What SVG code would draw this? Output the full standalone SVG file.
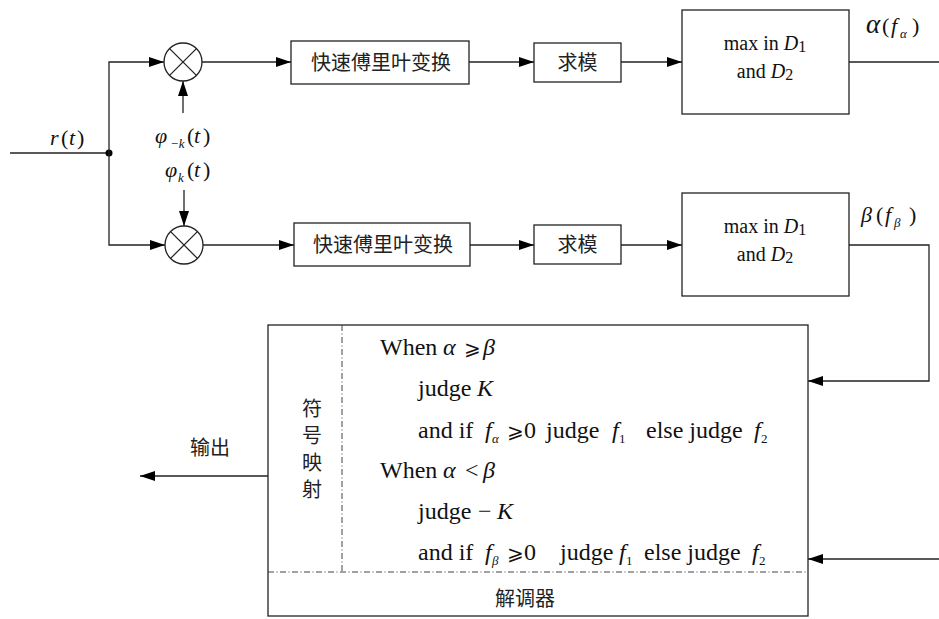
<svg xmlns="http://www.w3.org/2000/svg" width="939" height="619" viewBox="0 0 939 619">
<defs>
<marker id="ah" markerUnits="userSpaceOnUse" markerWidth="15" markerHeight="10" refX="15" refY="5" orient="auto">
<path d="M0,0 L15,5 L0,10 Z" fill="#000"/>
</marker>
<style>
.ln{fill:none;stroke:#222;stroke-width:1.3}
.bx{fill:#fff;stroke:#222;stroke-width:1.3}
.dd{fill:none;stroke:#444;stroke-width:1;stroke-dasharray:6,2.5,1,2.5}
.cj{font-family:"Noto Sans CJK SC",sans-serif;font-size:20px;fill:#222}
.tm{font-family:"Liberation Serif","DejaVu Serif",serif;font-size:22px;fill:#111}
.bt{font-family:"Liberation Serif","DejaVu Serif",serif;font-size:24px;fill:#111}
.mx{font-family:"Liberation Serif","DejaVu Serif",serif;font-size:20px;fill:#111}
.it{font-style:italic}
.sb{font-size:13px}
.ge{font-family:"DejaVu Serif",serif;font-size:20px}
</style>
</defs>
<rect width="939" height="619" fill="#fff"/>

<g id="connectors">
<path class="ln" d="M10,153 H109"/>
<circle cx="109" cy="153" r="3.5" fill="#000"/>
<path class="ln" d="M109,153 V62 H164" marker-end="url(#ah)"/>
<path class="ln" d="M109,153 V245 H165" marker-end="url(#ah)"/>
<path class="ln" d="M183,113 V81" marker-end="url(#ah)"/>
<path class="ln" d="M184,190 V226" marker-end="url(#ah)"/>
<path class="ln" d="M202,62 H291" marker-end="url(#ah)"/>
<path class="ln" d="M203,245 H294" marker-end="url(#ah)"/>
<path class="ln" d="M469,62 H534" marker-end="url(#ah)"/>
<path class="ln" d="M470,245 H534" marker-end="url(#ah)"/>
<path class="ln" d="M621,62 H682" marker-end="url(#ah)"/>
<path class="ln" d="M621,245 H682" marker-end="url(#ah)"/>
<path class="ln" d="M849,62 H939"/>
<path class="ln" d="M849,245 H929 V381 H808" marker-end="url(#ah)"/>
<path class="ln" d="M939,559 H808" marker-end="url(#ah)"/>
<path class="ln" d="M268,476 H140" marker-end="url(#ah)"/>
</g>

<g id="labels">
<text class="tm" y="145" font-size="24"><tspan class="it" x="50">r</tspan><tspan x="61">(</tspan><tspan class="it" x="69">t</tspan><tspan x="77">)</tspan></text>
<text class="tm" y="143"><tspan class="it" x="155">φ</tspan><tspan class="sb it" dy="5" x="170">−k</tspan><tspan dy="-5" x="187">(</tspan><tspan class="it" x="194">t</tspan><tspan x="203">)</tspan></text>
<text class="tm" y="177"><tspan class="it" x="165">φ</tspan><tspan class="sb it" dy="5" x="178">k</tspan><tspan dy="-5" x="187">(</tspan><tspan class="it" x="194">t</tspan><tspan x="203">)</tspan></text>
<text class="tm" y="33" font-size="24"><tspan class="it" x="866" font-size="27">α</tspan><tspan x="882">(</tspan><tspan class="it" x="891">f</tspan><tspan class="sb it" dy="5" x="900">α</tspan><tspan dy="-5" x="912">)</tspan></text>
<text class="tm" y="222" font-size="24"><tspan class="it" x="861">β</tspan><tspan x="876">(</tspan><tspan class="it" x="885">f</tspan><tspan class="sb it" dy="5" x="894">β</tspan><tspan dy="-5" x="909">)</tspan></text>
<text class="cj" x="190" y="455">输出</text>
</g>

<g id="mul1">
<circle class="bx" cx="183" cy="62" r="19"/>
<path class="ln" d="M169.6,48.6 L196.4,75.4 M196.4,48.6 L169.6,75.4"/>
</g>
<g id="mul2">
<circle class="bx" cx="184" cy="245" r="19"/>
<path class="ln" d="M170.6,231.6 L197.4,258.4 M197.4,231.6 L170.6,258.4"/>
</g>

<g id="fft1">
<rect class="bx" x="291" y="41" width="178" height="43"/>
<text class="cj" x="381" y="70" text-anchor="middle" font-size="22">快速傅里叶变换</text>
</g>
<g id="fft2">
<rect class="bx" x="294" y="223" width="176" height="43"/>
<text class="cj" x="383" y="252" text-anchor="middle" font-size="22">快速傅里叶变换</text>
</g>
<g id="abs1">
<rect class="bx" x="534" y="43" width="87" height="39"/>
<text class="cj" x="577.5" y="70" text-anchor="middle" font-size="22">求模</text>
</g>
<g id="abs2">
<rect class="bx" x="534" y="225" width="87" height="39"/>
<text class="cj" x="577.5" y="252" text-anchor="middle" font-size="22">求模</text>
</g>
<g id="max1">
<rect class="bx" x="682" y="10" width="167" height="104"/>
<text class="mx" x="765" y="50" text-anchor="middle">max in <tspan class="it">D</tspan><tspan font-size="16" dy="2">1</tspan></text>
<text class="mx" x="765" y="78" text-anchor="middle">and <tspan class="it">D</tspan><tspan font-size="16" dy="2">2</tspan></text>
</g>
<g id="max2">
<rect class="bx" x="682" y="193" width="167" height="103"/>
<text class="mx" x="765" y="233" text-anchor="middle">max in <tspan class="it">D</tspan><tspan font-size="16" dy="2">1</tspan></text>
<text class="mx" x="765" y="261" text-anchor="middle">and <tspan class="it">D</tspan><tspan font-size="16" dy="2">2</tspan></text>
</g>

<g id="demod">
<rect class="bx" x="268" y="325" width="540" height="291"/>
<path class="dd" d="M342,325 V572"/>
<path class="dd" d="M268,572 H808"/>
<text class="cj" x="312" y="398" style="writing-mode:vertical-rl;letter-spacing:7px">符号映射</text>
<text class="cj" x="525" y="606" text-anchor="middle" font-size="17">解调器</text>
<text class="bt" y="355"><tspan x="380">When</tspan><tspan class="it" x="443">α</tspan><tspan class="ge" x="464">⩾</tspan><tspan class="it" x="483">β</tspan></text>
<text class="bt" y="396"><tspan x="418">judge</tspan><tspan class="it" x="477">K</tspan></text>
<text class="bt" y="438"><tspan x="418">and if</tspan><tspan class="it" x="485">f</tspan><tspan class="sb it" dy="5" x="492">α</tspan><tspan class="ge" dy="-5" x="507">⩾</tspan><tspan x="524">0</tspan><tspan x="546">judge</tspan><tspan class="it" x="612">f</tspan><tspan class="sb" dy="5" x="619">1</tspan><tspan dy="-5" x="646">else judge</tspan><tspan class="it" x="754">f</tspan><tspan class="sb" dy="5" x="761">2</tspan></text>
<text class="bt" y="478"><tspan x="380">When</tspan><tspan class="it" x="443">α</tspan><tspan x="465">&lt;</tspan><tspan class="it" x="483">β</tspan></text>
<text class="bt" y="519"><tspan x="418">judge</tspan><tspan x="478">−</tspan><tspan class="it" x="497">K</tspan></text>
<text class="bt" y="560"><tspan x="418">and if</tspan><tspan class="it" x="485">f</tspan><tspan class="sb it" dy="5" x="492">β</tspan><tspan class="ge" dy="-5" x="507">⩾</tspan><tspan x="524">0</tspan><tspan x="560">judge</tspan><tspan class="it" x="619">f</tspan><tspan class="sb" dy="5" x="626">1</tspan><tspan dy="-5" x="644">else judge</tspan><tspan class="it" x="752">f</tspan><tspan class="sb" dy="5" x="759">2</tspan></text>
</g>
</svg>
